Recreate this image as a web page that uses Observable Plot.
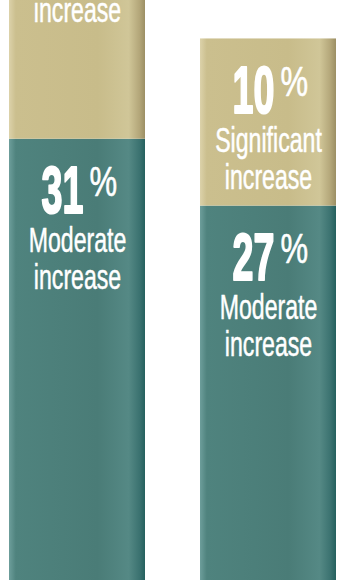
<!DOCTYPE html>
<html><head><meta charset="utf-8">
<script src="https://cdn.jsdelivr.net/npm/d3@7"></script>
<script src="https://cdn.jsdelivr.net/npm/@observablehq/plot@0.6"></script>
<style>
html,body{margin:0;padding:0;background:#fff;overflow:hidden}
svg{display:block}
</style></head><body><div id="chart"></div>
<script>
const groups = ["Group A", "Group B"];
const series = ["Moderate", "Significant"];
const labelLine1 = ["Moderate", "Significant"];
const labelLine2 = ["increase", "increase"];
const moderate = [31, 27];
const significant = [16, 10];

const values = [moderate, significant];
const rows = [];
groups.forEach((g, i) => {
  let base = 0;
  series.forEach((s, k) => {
    const v = values[k][i];
    rows.push({group: g, series: s, value: v, top: base + v, num: String(v), l1: labelLine1[k], l2: labelLine2[k]});
    base += v;
  });
});

const FONT = "'Liberation Sans Narrow', 'Liberation Sans', Arial, sans-serif";

const plot = Plot.plot({
  width: 364, height: 583,
  marginTop: 0, marginBottom: 3, marginLeft: 8, marginRight: 27,
  style: {background: "#fff", fontFamily: FONT},
  x: {domain: groups, axis: null, paddingInner: 0.286, paddingOuter: 0},
  y: {domain: [4.6, 39.3], axis: null},
  color: {type: "ordinal", domain: series, range: ["url(#gTeal)", "url(#gTan)"]},
  marks: [
    Plot.barY(rows, Plot.stackY({x: "group", y: "value", fill: "series", order: series, clip: true})),
    Plot.text(rows, {x: "group", y: "top", text: "num", className: "num", textAnchor: "end", dx: 6, dy: 74, lineAnchor: "bottom", fill: "#fff", stroke: "#fff", strokeWidth: 2.2, fontSize: 66, fontWeight: 700, clip: true}),
    Plot.text(rows, {x: "group", y: "top", text: () => "%", className: "pct", textAnchor: "start", dx: 12, dy: 57, lineAnchor: "bottom", fill: "#fff", stroke: "#fff", strokeWidth: 0.6, fontSize: 42, fontWeight: 400, clip: true}),
    Plot.text(rows, {x: "group", y: "top", text: "l1", className: "lbl", dy: 113, lineAnchor: "bottom", fill: "#fff", stroke: "#fff", strokeWidth: 0.5, fontSize: 35, clip: true}),
    Plot.text(rows, {x: "group", y: "top", text: "l2", className: "lbl", dy: 150, lineAnchor: "bottom", fill: "#fff", stroke: "#fff", strokeWidth: 0.5, fontSize: 35, clip: true})
  ]
});

document.getElementById("chart").appendChild(plot);

const svg = d3.select(plot);
const defs = svg.insert("defs", ":first-child");
function grad(id, stops) {
  const g = defs.append("linearGradient").attr("id", id).attr("x1", 0).attr("x2", 1).attr("y1", 0).attr("y2", 0);
  stops.forEach(([o, c]) => g.append("stop").attr("offset", o).attr("stop-color", c));
}
grad("gTeal", [[0, "#6d9e9b"], [0.05, "#4f837e"], [0.65, "#4a7c77"], [0.88, "#558985"], [0.96, "#3b7270"], [1, "#25605e"]]);
grad("gTan", [[0, "#dcd2aa"], [0.05, "#cbbf8e"], [0.65, "#c8bc8a"], [0.88, "#d0c698"], [0.96, "#b3a679"], [1, "#9c8f64"]]);

function squeeze(sel, f) {
  svg.selectAll(sel).each(function () {
    const w = this.getComputedTextLength();
    this.setAttribute("textLength", (w * f).toFixed(1));
    this.setAttribute("lengthAdjust", "spacingAndGlyphs");
  });
}
squeeze(".num text", 0.57);
squeeze(".pct text", 0.74);
squeeze(".lbl text", 0.66);
</script></body></html>
